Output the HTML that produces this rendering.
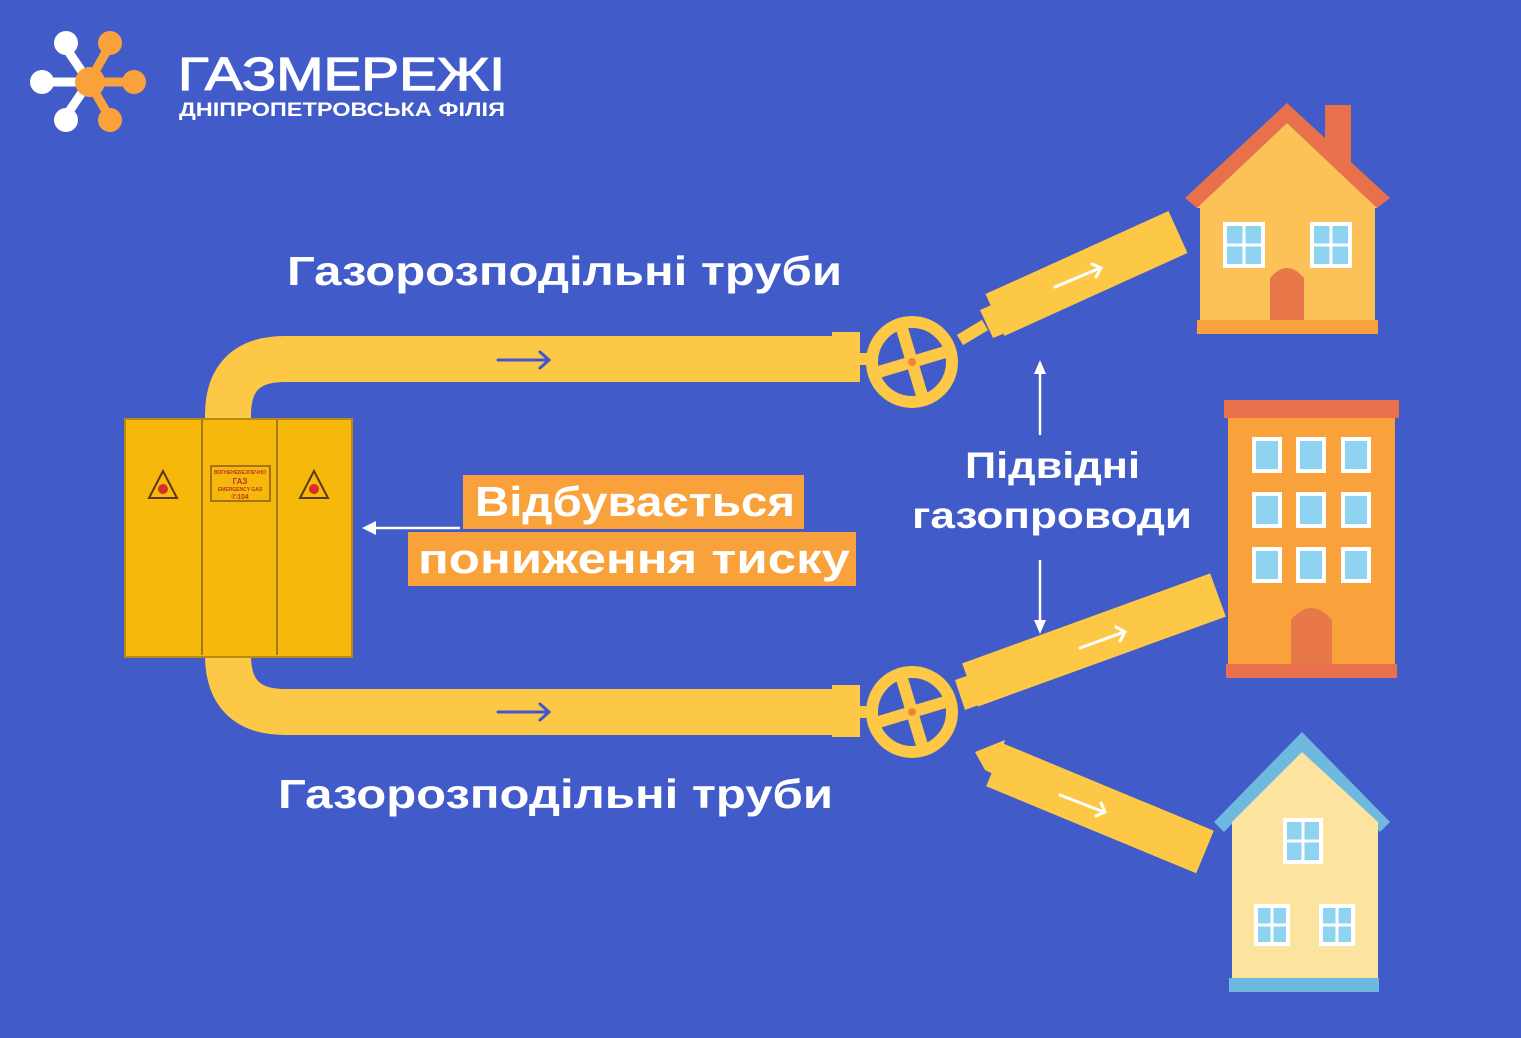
<!DOCTYPE html>
<html><head><meta charset="utf-8"><style>
html,body{margin:0;padding:0;background:#415bc9;}
svg{display:block}
text{font-family:"Liberation Sans","DejaVu Sans",sans-serif;font-weight:bold}
</style></head><body>
<svg width="1521" height="1038" viewBox="0 0 1521 1038" xmlns="http://www.w3.org/2000/svg">
<rect width="1521" height="1038" fill="#415bc9"/>
<!-- logo -->
<g stroke-linecap="round">
<line x1="89" y1="82" x2="66" y2="48" stroke="#fff" stroke-width="9"/>
<line x1="89" y1="82" x2="44" y2="82" stroke="#fff" stroke-width="9"/>
<line x1="89" y1="82" x2="66" y2="116" stroke="#fff" stroke-width="9"/>
<line x1="89" y1="82" x2="110" y2="45" stroke="#f9a23c" stroke-width="9"/>
<line x1="89" y1="82" x2="132" y2="82" stroke="#f9a23c" stroke-width="9"/>
<line x1="89" y1="82" x2="110" y2="118" stroke="#f9a23c" stroke-width="9"/>
</g>
<circle cx="66" cy="43" r="12" fill="#fff"/><circle cx="42" cy="82" r="12" fill="#fff"/><circle cx="66" cy="120" r="12" fill="#fff"/>
<circle cx="110" cy="43" r="12" fill="#f9a23c"/><circle cx="134" cy="82" r="12" fill="#f9a23c"/><circle cx="110" cy="120" r="12" fill="#f9a23c"/>
<circle cx="90" cy="82" r="15" fill="#f9a23c"/>
<text x="178" y="90" font-size="46" fill="#fff" textLength="327" lengthAdjust="spacingAndGlyphs" style="font-weight:normal" stroke="#fff" stroke-width="1.2">ГАЗМЕРЕЖІ</text>
<text x="179" y="116" font-size="19" fill="#fff" textLength="326" lengthAdjust="spacingAndGlyphs">ДНІПРОПЕТРОВСЬКА ФІЛІЯ</text>

<!-- pipes -->
<g fill="none" stroke="#fdc846" stroke-width="46">
<path d="M832 359 H285 Q228 359 228 415 V440"/>
<path d="M832 712 H285 Q228 712 228 655 V630"/>
<line x1="995" y1="315" x2="1178" y2="232"/>
<line x1="970" y1="685" x2="1218" y2="595"/>
<line x1="995" y1="765" x2="1205" y2="852"/>
</g>
<!-- flanges -->
<rect x="832" y="332" width="28" height="50" fill="#fdc846"/>
<rect x="832" y="685" width="28" height="52" fill="#fdc846"/>
<line x1="860" y1="359" x2="870" y2="359" stroke="#fdc846" stroke-width="12"/>
<line x1="860" y1="712" x2="870" y2="712" stroke="#fdc846" stroke-width="12"/>
<line x1="960" y1="340" x2="985" y2="325" stroke="#fdc846" stroke-width="12"/>
<polygon points="980,310 1012,296 1025,325 993,338" fill="#fdc846"/>
<polygon points="955,680 990,668 1000,697 965,710" fill="#fdc846"/>
<polygon points="975,752 1005,740 995,775 985,770" fill="#fdc846"/>
<!-- valves -->
<g fill="none" stroke="#fdc846" stroke-width="12">
<circle cx="912" cy="362" r="40"/><circle cx="912" cy="712" r="40"/>
<line x1="912" y1="362" x2="900" y2="322"/><line x1="912" y1="362" x2="952" y2="350"/><line x1="912" y1="362" x2="924" y2="402"/><line x1="912" y1="362" x2="872" y2="374"/>
<line x1="912" y1="712" x2="900" y2="672"/><line x1="912" y1="712" x2="952" y2="700"/><line x1="912" y1="712" x2="924" y2="752"/><line x1="912" y1="712" x2="872" y2="724"/>
</g>
<circle cx="912" cy="362" r="4" fill="#f0862f"/><circle cx="912" cy="712" r="4" fill="#f0862f"/>
<!-- pipe arrows -->
<g stroke="#4159c8" stroke-width="3" fill="none" stroke-linecap="round">
<path d="M498 360 H548 M540 352 L549 360 L540 368"/>
<path d="M498 712 H548 M540 704 L549 712 L540 720"/>
</g>
<g stroke="#fff" stroke-width="3" fill="none" stroke-linecap="round">
<path d="M1055 287 L1100 268 M1092 264 L1101 268 L1096 277"/>
<path d="M1080 648 L1124 632 M1116 627 L1125 632 L1120 641"/>
<path d="M1060 795 L1104 812 M1096 816 L1105 812 L1101 803"/>
</g>
<!-- cabinet -->
<rect x="125" y="419" width="227" height="238" fill="#f6b90b" stroke="#b98a10" stroke-width="2"/>
<line x1="202" y1="420" x2="202" y2="655" stroke="#a47a10" stroke-width="2"/>
<line x1="277" y1="420" x2="277" y2="655" stroke="#a47a10" stroke-width="2"/>
<rect x="211" y="466" width="59" height="35" fill="none" stroke="#8a5a10" stroke-width="1.5"/>
<text x="240" y="474" font-size="5" fill="#c0302a" text-anchor="middle">ВОГНЕНЕБЕЗПЕЧНО</text>
<text x="240" y="484" font-size="8" fill="#c0302a" text-anchor="middle">ГАЗ</text>
<text x="240" y="491" font-size="5" fill="#c0302a" text-anchor="middle">EMERGENCY GAS</text>
<text x="240" y="499" font-size="7" fill="#c0302a" text-anchor="middle">✆104</text>
<polygon points="163,471 149,498 177,498" fill="none" stroke="#5a3a10" stroke-width="2"/>
<circle cx="163" cy="489" r="5" fill="#d2302a"/>
<polygon points="314,471 300,498 328,498" fill="none" stroke="#5a3a10" stroke-width="2"/>
<circle cx="314" cy="489" r="5" fill="#d2302a"/>
<!-- labels -->
<text x="287" y="285" font-size="41" fill="#fff" textLength="555" lengthAdjust="spacingAndGlyphs">Газорозподільні труби</text>
<text x="278" y="808" font-size="41" fill="#fff" textLength="555" lengthAdjust="spacingAndGlyphs">Газорозподільні труби</text>
<rect x="463" y="475" width="341" height="54" fill="#f9a23c"/>
<rect x="408" y="532" width="448" height="54" fill="#f9a23c"/>
<text x="475" y="516" font-size="42" fill="#fff" textLength="320" lengthAdjust="spacingAndGlyphs">Відбувається</text>
<text x="418" y="573" font-size="42" fill="#fff" textLength="432" lengthAdjust="spacingAndGlyphs">пониження тиску</text>
<g stroke="#fff" stroke-width="2.5" fill="#fff">
<line x1="460" y1="528" x2="372" y2="528"/>
<polygon points="362,528 376,521 376,535" stroke="none"/>
<line x1="1040" y1="435" x2="1040" y2="370"/>
<polygon points="1040,360 1034,374 1046,374" stroke="none"/>
<line x1="1040" y1="560" x2="1040" y2="624"/>
<polygon points="1040,634 1034,620 1046,620" stroke="none"/>
</g>
<text x="965" y="478" font-size="37" fill="#fff" textLength="175" lengthAdjust="spacingAndGlyphs">Підвідні</text>
<text x="912" y="528" font-size="37" fill="#fff" textLength="280" lengthAdjust="spacingAndGlyphs">газопроводи</text>
<!-- top house -->
<rect x="1325" y="105" width="26" height="60" fill="#e8704a"/>
<rect x="1200" y="195" width="175" height="127" fill="#fdc257"/>
<polygon points="1287,103 1185,198 1197,208 1287,123 1377,208 1390,198" fill="#e8704a"/>
<polygon points="1287,123 1197,208 1377,208" fill="#fdc257"/>
<rect x="1197" y="320" width="181" height="14" fill="#f9a23c"/>
<rect x="1223" y="222" width="42" height="46" fill="#fff"/><rect x="1227" y="226" width="34" height="38" fill="#8ed3f0"/>
<rect x="1310" y="222" width="42" height="46" fill="#fff"/><rect x="1314" y="226" width="34" height="38" fill="#8ed3f0"/>
<path d="M1270 320 V278 Q1287 258 1304 278 V320 Z" fill="#e8784a"/>
<g stroke="#fff" stroke-width="3"><line x1="1244" y1="226" x2="1244" y2="264"/><line x1="1227" y1="245" x2="1261" y2="245"/><line x1="1331" y1="226" x2="1331" y2="264"/><line x1="1314" y1="245" x2="1348" y2="245"/></g>
<!-- apartment -->
<rect x="1228" y="416" width="167" height="250" fill="#f9a23c"/>
<rect x="1224" y="400" width="175" height="18" fill="#e8704a"/>
<rect x="1226" y="664" width="171" height="14" fill="#e8704a"/>
<g fill="#8ed3f0" stroke="#fff" stroke-width="4">
<rect x="1254" y="439" width="26" height="32"/><rect x="1298" y="439" width="26" height="32"/><rect x="1343" y="439" width="26" height="32"/>
<rect x="1254" y="494" width="26" height="32"/><rect x="1298" y="494" width="26" height="32"/><rect x="1343" y="494" width="26" height="32"/>
<rect x="1254" y="549" width="26" height="32"/><rect x="1298" y="549" width="26" height="32"/><rect x="1343" y="549" width="26" height="32"/>
</g>
<path d="M1291 664 V620 Q1311 596 1332 620 V664 Z" fill="#e8784a"/>
<!-- bottom house -->
<rect x="1232" y="815" width="146" height="165" fill="#fde3a0"/>
<polygon points="1302,732 1214,822 1224,832 1302,752 1380,832 1390,822" fill="#6fb9e0"/>
<polygon points="1302,752 1232,822 1232,840 1378,840 1378,822" fill="#fde3a0"/>
<rect x="1229" y="978" width="150" height="14" fill="#6fb9e0"/>
<g fill="#8ed3f0" stroke="#fff" stroke-width="4">
<rect x="1285" y="820" width="36" height="42"/><rect x="1256" y="906" width="32" height="38"/><rect x="1321" y="906" width="32" height="38"/>
</g>
<g stroke="#fff" stroke-width="3"><line x1="1303" y1="820" x2="1303" y2="862"/><line x1="1285" y1="841" x2="1321" y2="841"/><line x1="1272" y1="906" x2="1272" y2="944"/><line x1="1256" y1="925" x2="1288" y2="925"/><line x1="1337" y1="906" x2="1337" y2="944"/><line x1="1321" y1="925" x2="1353" y2="925"/></g>
</svg>
</body></html>
